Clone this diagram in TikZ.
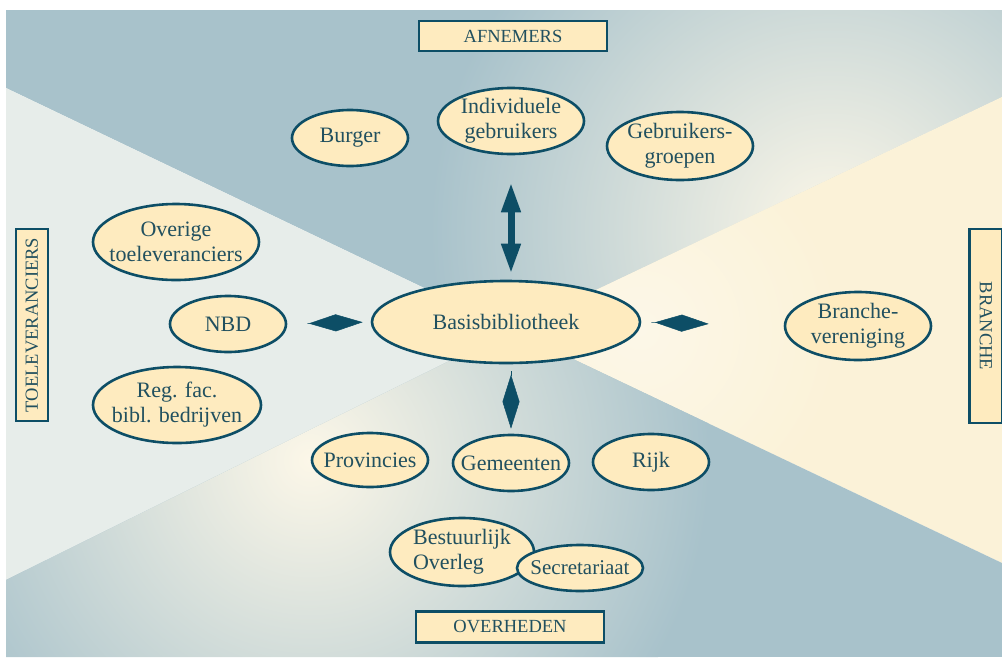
\documentclass[tikz,border=0pt]{standalone}
\usepackage{fontspec}
\setmainfont{Liberation Serif}
\usetikzlibrary{shapes.geometric,arrows.meta}
\definecolor{bgblue}{HTML}{A8C2CB}
\definecolor{bgleft}{HTML}{E7EDEA}
\definecolor{bgcream}{HTML}{FBF2D8}
\definecolor{glow}{HTML}{FCF7E8}
\definecolor{nodefill}{HTML}{FEEBBF}
\definecolor{edge}{HTML}{0D4E66}
\definecolor{ink}{HTML}{21505F}
\begin{document}
\begin{tikzpicture}[x=1pt,y=-1pt,
  bubble/.style 2 args={ellipse, draw=edge, line width=2.6pt, fill=nodefill,
    text=ink, inner sep=-30pt, align=center, minimum width=#1, minimum height=#2,
    font=\fontsize{22}{25}\selectfont},
  labelbox/.style 2 args={rectangle, draw=edge, line width=2.6pt, fill=nodefill,
    text=ink, inner sep=0pt, minimum width=#1, minimum height=#2,
    font=\fontsize{18.5}{20}\selectfont},
  spindle/.style={draw=edge, line width=0.5pt,
    -{Kite[length=54pt,width=17pt,inset=27pt]}},
  twoway/.style={draw=edge, fill=edge, line width=7pt,
    {Triangle[length=30pt,width=18pt]}-{Triangle[length=30pt,width=18pt]}}]

\useasboundingbox (0,0) rectangle (1002,657);
\fill[white] (0,0) rectangle (1002,657);

% four quadrants of the background, meeting in the centre
\coordinate (mid) at (512,330);
\begin{scope}
  \clip (6,10) -- (1002,10) -- (1002,97) -- (mid) -- (6,88) -- cycle;
  \fill[bgblue] (0,0) rectangle (1002,657);
  \shade[inner color=glow, outer color=bgblue] (830,230) circle (400);
\end{scope}
\fill[bgleft] (6,88) -- (mid) -- (6,580) -- cycle;
\begin{scope}
  \clip (1002,97) -- (1002,563) -- (mid) -- cycle;
  \fill[bgcream] (0,0) rectangle (1002,657);
  \shade[inner color=glow, outer color=bgcream] (640,330) circle (200);
\end{scope}
\begin{scope}
  \clip (6,580) -- (mid) -- (1002,563) -- (1002,657) -- (6,657) -- cycle;
  \fill[bgblue] (0,0) rectangle (1002,657);
  \shade[inner color=glow, outer color=bgblue] (310,460) circle (400);
\end{scope}

% side labels
\node[labelbox={188pt}{30pt}] (afn) at (513,36) {AFNEMERS};
\node[labelbox={188pt}{31pt}] (ovh) at (510,627) {OVERHEDEN};
\node[labelbox={192pt}{32pt}, rotate=90] (toe) at (32,325) {TOELEVERANCIERS};
\node[labelbox={194pt}{33pt}, rotate=-90] (bra) at (986,326) {BRANCHE};

% ellipses
\node[bubble={116pt}{56pt}] (burg) at (350,138) {Burger};
\node[bubble={146pt}{66pt}] (ind) at (511,121) {Individuele\\gebruikers};
\node[bubble={146pt}{68pt}] (grp) at (680,146) {Gebruikers-\\groepen};
\node[bubble={166pt}{76pt}] (ovr) at (176,242) {Overige\\toeleveranciers};
\node[bubble={116pt}{56pt}] (nbd) at (228,324) {NBD};
\node[bubble={268pt}{82pt}] (basis) at (506,322) {Basisbibliotheek};
\node[bubble={146pt}{68pt}] (bran) at (858,326) {Branche-\\vereniging};
\node[bubble={168pt}{76pt}] (reg) at (177,405) {Reg. fac.\\bibl. bedrijven};
\node[bubble={116pt}{54pt}] (prov) at (370,460) {Provincies};
\node[bubble={116pt}{56pt}] (gem) at (511,463) {Gemeenten};
\node[bubble={116pt}{56pt}] (rijk) at (651,462) {Rijk};
\node[bubble={144pt}{68pt}, align=left] (best) at (462,552) {Bestuurlijk\\Overleg};
\node[bubble={126pt}{46pt}, font=\fontsize{21}{24}\selectfont] (secr) at (580,568) {Secretariaat};

% connectors
\draw[twoway, shorten <=27pt, shorten >=6pt] (ind.south) -- (ind.south |- basis.north);
\draw[spindle, shorten <=7pt, shorten >=5pt] (gem.north |- basis.south) -- (gem.north);
\draw[spindle, shorten <=20pt, shorten >=8pt] (nbd.east) -- (basis.west);
\draw[spindle, shorten <=10pt, shorten >=75pt] (basis.east) -- (bran.west);
\end{tikzpicture}
\end{document}
